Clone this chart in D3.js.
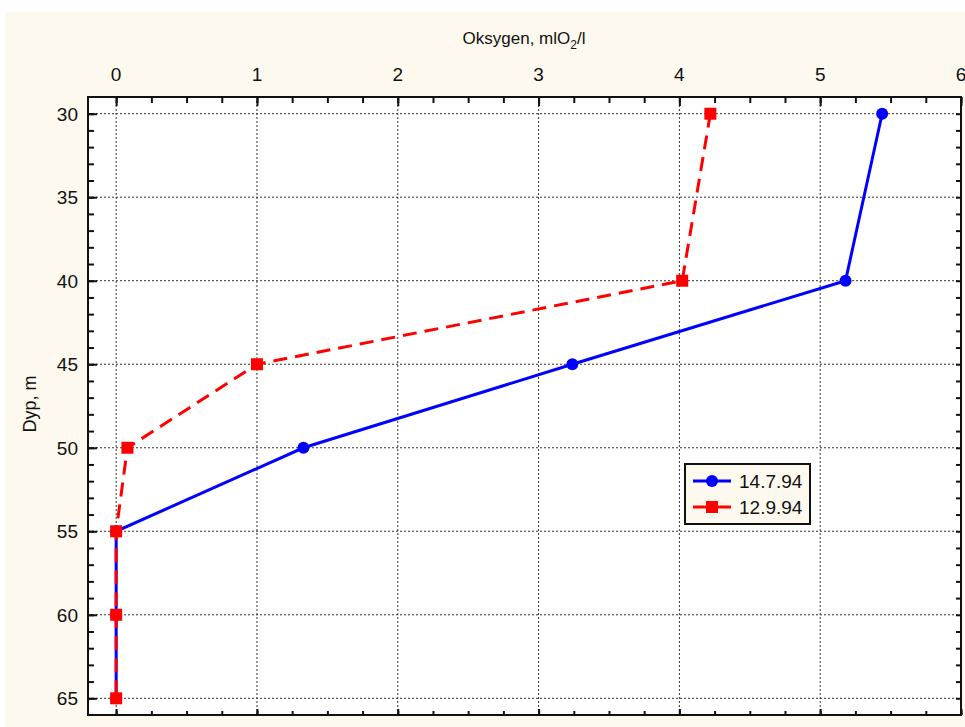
<!DOCTYPE html>
<html>
<head>
<meta charset="utf-8">
<script src="https://cdn.jsdelivr.net/npm/d3@7"></script>
<style>
  body { margin: 0; background: #fff; }
  text { font-family: "Liberation Sans", Arial, sans-serif; fill: #111; }
</style>
</head>
<body>
<svg id="canvas" width="965" height="727"></svg>
<script>
// depth (m) and oxygen (mlO2/l) values
let depths = [30, 40, 45, 50, 55, 60, 65];
let oxygenJuly = [5.44, 5.18, 3.24, 1.33, 0, 0, 0];
let oxygenSept = [4.22, 4.02, 1.0, 0.08, 0, 0, 0];
let seriesNames = ["14.7.94", "12.9.94"];
let xTicks = [0, 1, 2, 3, 4, 5, 6];
let yTicks = [30, 35, 40, 45, 50, 55, 60, 65];

let canvas = d3.select("#canvas");

// cream background panel
canvas.append("rect")
    .attr("x", 5).attr("y", 12)
    .attr("width", 960).attr("height", 715)
    .attr("fill", "#fdf9ee");

let plotLeft = 88, plotRight = 961, plotTop = 97, plotBottom = 715;

let x = d3.scaleLinear().domain([-0.2, 6]).range([plotLeft, plotRight]);
let y = d3.scaleLinear().domain([29, 66]).range([plotTop, plotBottom]);

// plot area
canvas.append("rect")
    .attr("x", plotLeft).attr("y", plotTop)
    .attr("width", plotRight - plotLeft).attr("height", plotBottom - plotTop)
    .attr("fill", "white");

// dotted grid
canvas.append("g").selectAll("line")
    .data(xTicks)
    .join("line")
    .attr("x1", d => x(d)).attr("x2", d => x(d))
    .attr("y1", plotTop).attr("y2", plotBottom)
    .attr("stroke", "#333").attr("stroke-width", 1)
    .attr("stroke-dasharray", "2,2");
canvas.append("g").selectAll("line")
    .data(yTicks)
    .join("line")
    .attr("x1", plotLeft).attr("x2", plotRight)
    .attr("y1", d => y(d)).attr("y2", d => y(d))
    .attr("stroke", "#333").attr("stroke-width", 1)
    .attr("stroke-dasharray", "2,2");

// axes with inward ticks
let xMinor = d3.range(0, 6.01, 0.25);
let yMinor = d3.range(30, 65.01, 1);

let topAxis = d3.axisBottom(x).tickValues(xMinor).tickSize(6).tickFormat("");
let topMajor = d3.axisBottom(x).tickValues(xTicks).tickSize(9).tickFormat("");
let botAxis = d3.axisTop(x).tickValues(xMinor).tickSize(4).tickFormat("");
let botMajor = d3.axisTop(x).tickValues(xTicks).tickSize(6).tickFormat("");
let leftAxis = d3.axisRight(y).tickValues(yMinor).tickSize(6).tickFormat("");
let leftMajor = d3.axisRight(y).tickValues(yTicks).tickSize(9).tickFormat("");
let rightAxis = d3.axisLeft(y).tickValues(yMinor).tickSize(5).tickFormat("");

[[topAxis, 0, plotTop], [topMajor, 0, plotTop], [botAxis, 0, plotBottom], [botMajor, 0, plotBottom],
 [leftAxis, plotLeft, 0], [leftMajor, plotLeft, 0], [rightAxis, plotRight, 0]].forEach(a => {
    let g = canvas.append("g")
        .attr("transform", "translate(" + a[1] + "," + a[2] + ")")
        .call(a[0]);
    g.select(".domain").remove();
    g.selectAll("line").attr("stroke", "#111").attr("stroke-width", 2);
});

// frame
canvas.append("rect")
    .attr("x", plotLeft).attr("y", plotTop)
    .attr("width", plotRight - plotLeft).attr("height", plotBottom - plotTop)
    .attr("fill", "none").attr("stroke", "#111").attr("stroke-width", 2);

// tick labels
canvas.append("g").selectAll("text")
    .data(xTicks)
    .join("text")
    .attr("x", d => x(d)).attr("y", 81)
    .attr("text-anchor", "middle")
    .style("font-size", "19px")
    .text(d => d);
canvas.append("g").selectAll("text")
    .data(yTicks)
    .join("text")
    .attr("x", 78).attr("y", d => y(d) + 7)
    .attr("text-anchor", "end")
    .style("font-size", "19px")
    .text(d => d);

// axis titles
let title = canvas.append("text")
    .attr("x", 524).attr("y", 44)
    .attr("text-anchor", "middle")
    .style("font-size", "17px");
title.append("tspan").text("Oksygen, mlO");
title.append("tspan").attr("dy", 5).style("font-size", "12px").text("2");
title.append("tspan").attr("dy", -5).text("/l");

canvas.append("text")
    .attr("transform", "translate(36,404) rotate(-90)")
    .attr("text-anchor", "middle")
    .style("font-size", "18px")
    .text("Dyp, m");

// lines
let line = d3.line().x(d => x(d[0])).y(d => y(d[1]));
let july = d3.zip(oxygenJuly, depths);
let sept = d3.zip(oxygenSept, depths);

canvas.append("path")
    .attr("d", line(july))
    .attr("fill", "none").attr("stroke", "#0000ff").attr("stroke-width", 3);
canvas.append("g").selectAll("circle")
    .data(july)
    .join("circle")
    .attr("cx", d => x(d[0])).attr("cy", d => y(d[1]))
    .attr("r", 6).attr("fill", "#0000ff");

canvas.append("path")
    .attr("d", line(sept))
    .attr("fill", "none").attr("stroke", "#ff0000").attr("stroke-width", 3)
    .attr("stroke-dasharray", "14,8");
canvas.append("g").selectAll("rect")
    .data(sept)
    .join("rect")
    .attr("x", d => x(d[0]) - 6).attr("y", d => y(d[1]) - 6)
    .attr("width", 12).attr("height", 12).attr("fill", "#ff0000");

// legend
let legend = canvas.append("g").attr("transform", "translate(685,464)");
legend.append("rect")
    .attr("width", 125).attr("height", 60)
    .attr("fill", "#fdf9ee").attr("stroke", "#111").attr("stroke-width", 2);
let colors = ["#0000ff", "#ff0000"];
seriesNames.forEach((name, i) => {
    let row = legend.append("g").attr("transform", "translate(0," + (17 + i * 26) + ")");
    row.append("line")
        .attr("x1", 8).attr("x2", 46)
        .attr("stroke", colors[i]).attr("stroke-width", 3);
    if (i === 0) {
        row.append("circle").attr("cx", 27).attr("r", 6).attr("fill", colors[i]);
    } else {
        row.append("rect").attr("x", 21).attr("y", -6)
            .attr("width", 12).attr("height", 12).attr("fill", colors[i]);
    }
    row.append("text")
        .attr("x", 54).attr("y", 7)
        .style("font-size", "19px")
        .text(name);
});
</script>
</body>
</html>
